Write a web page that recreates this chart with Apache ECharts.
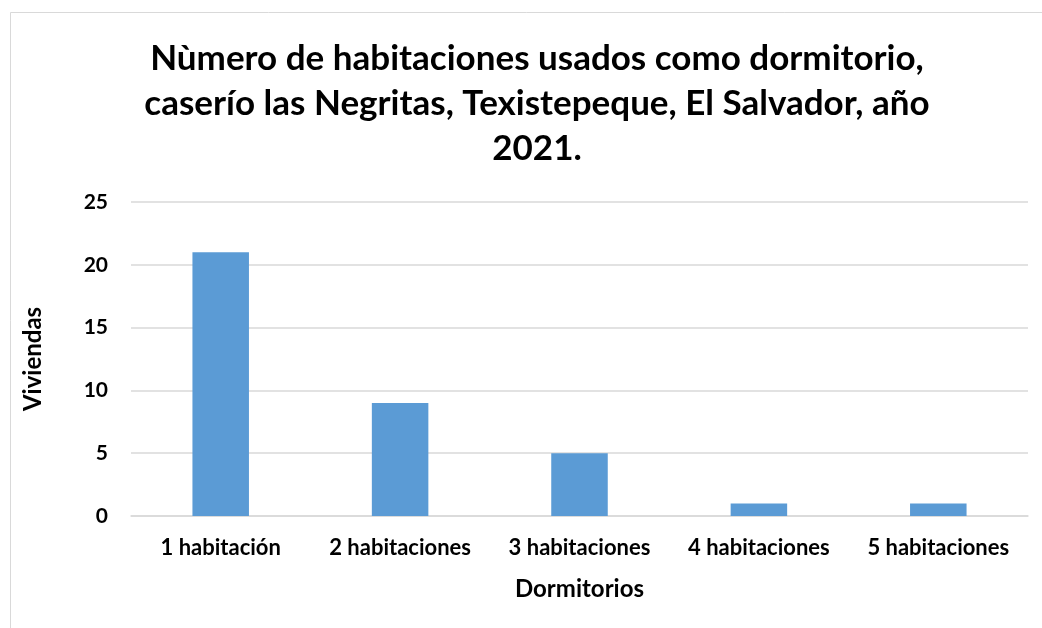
<!DOCTYPE html>
<html>
<head>
<meta charset="utf-8">
<script src="https://cdn.jsdelivr.net/npm/echarts@6/dist/echarts.min.js"></script>
<style>html,body{margin:0;padding:0;background:#fff}#c{width:1042px;height:628px}</style>
</head>
<body>
<div id="c"></div>
<script>
const categories = ['1 habitación', '2 habitaciones', '3 habitaciones', '4 habitaciones', '5 habitaciones'];
const viviendas = [21, 9, 5, 1, 1];
const titleText = 'Nùmero de habitaciones usados como dormitorio,\ncaserío las Negritas, Texistepeque, El Salvador, año\n2021.';
const xName = 'Dormitorios';
const yName = 'Viviendas';

const FONT = 'Lato, "Open Sans", sans-serif';
const chart = echarts.init(document.getElementById('c'), null, {renderer: 'canvas'});
chart.setOption({
  backgroundColor: '#fff',
  animation: false,
  graphic: [{
    type: 'rect', shape: {x: 10.5, y: 12.5, width: 1040, height: 630},
    style: {fill: 'none', stroke: '#d9d9d9', lineWidth: 1}, silent: true
  }],
  title: {
    text: titleText, left: 532, top: 31, textAlign: 'center',
    textStyle: {fontFamily: FONT, fontWeight: 'bold', fontSize: 35, color: '#000', lineHeight: 45}
  },
  grid: {left: 131, right: 14, top: 202, bottom: 112, containLabel: false},
  xAxis: {
    type: 'category', data: categories,
    name: xName, nameLocation: 'middle', nameGap: 61,
    nameTextStyle: {fontFamily: FONT, fontWeight: 'bold', fontSize: 24, color: '#000'},
    axisLine: {lineStyle: {color: '#d9d9d9', width: 1.5}},
    axisTick: {show: false},
    axisLabel: {interval: 0, fontFamily: FONT, fontWeight: 'bold', fontSize: 22, color: '#000', margin: 21}
  },
  yAxis: {
    type: 'value', min: 0, max: 25, interval: 5,
    name: yName, nameLocation: 'middle', nameGap: 86, nameRotate: 90,
    nameTextStyle: {fontFamily: FONT, fontWeight: 'bold', fontSize: 24, color: '#000'},
    axisLine: {show: false}, axisTick: {show: false},
    splitLine: {lineStyle: {color: '#d9d9d9', width: 1.5}},
    axisLabel: {fontFamily: FONT, fontWeight: 'bold', fontSize: 21, color: '#000', margin: 23}
  },
  series: [{
    type: 'bar', data: viviendas, barWidth: '31.5%',
    itemStyle: {color: '#5b9bd5'}
  }]
});
</script>
</body>
</html>
